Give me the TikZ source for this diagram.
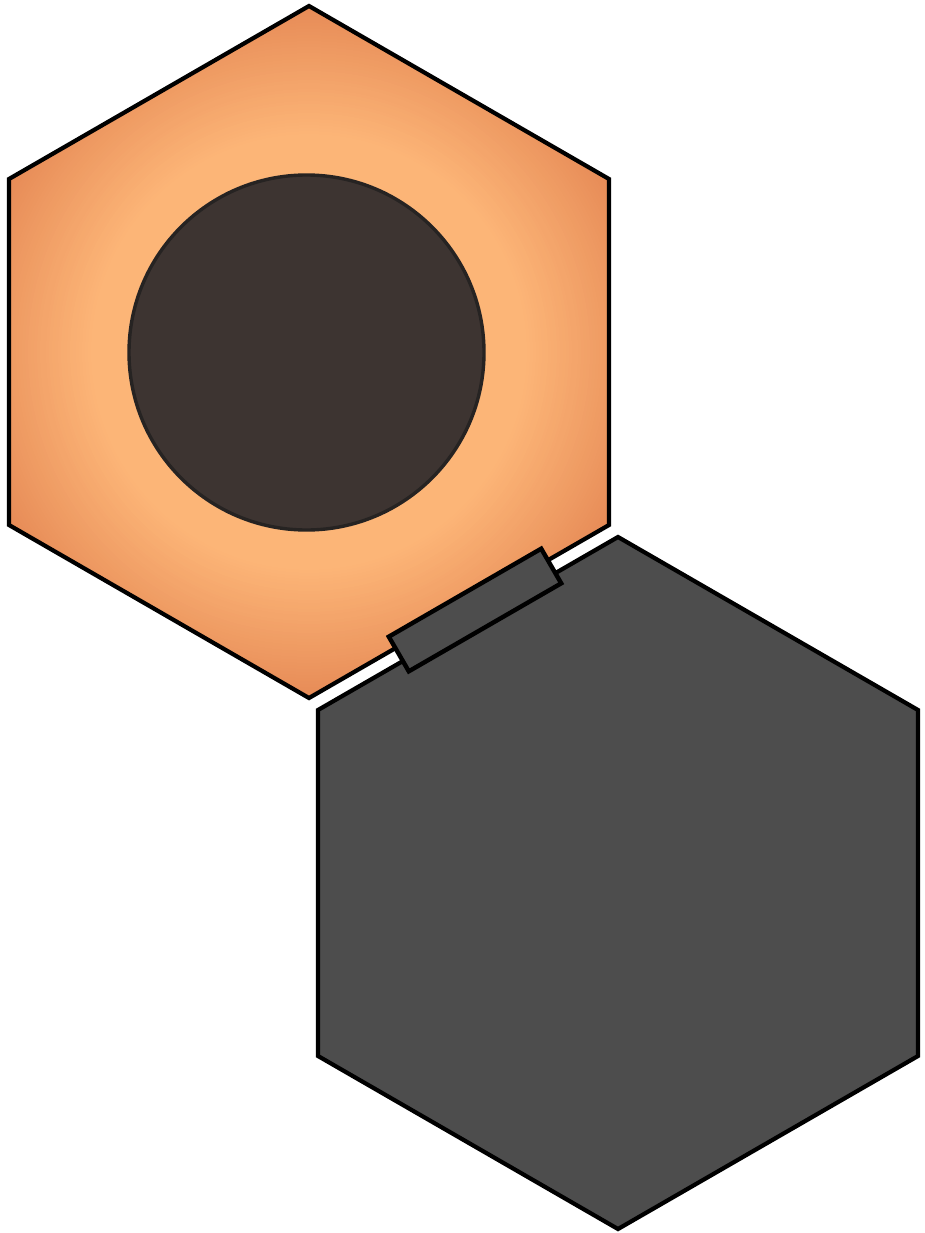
\documentclass[tikz,border=0pt]{standalone}
\usetikzlibrary{calc}
\definecolor{orlight}{HTML}{FCB577}
\definecolor{ordark}{HTML}{E68A56}
\definecolor{hexgray}{HTML}{4D4D4D}
\definecolor{circfill}{HTML}{3D3431}
\definecolor{circline}{HTML}{262322}
\tikzset{
  hexline/.style={draw=black, line width=4.2pt, line join=miter},
  conn/.style={draw=black, line width=4.4pt, fill=hexgray, line join=miter},
}
\begin{document}
\begin{tikzpicture}[x=1pt,y=-1pt]
\useasboundingbox (0,0) rectangle (924,1233);
% orange hexagon with radial gradient
\coordinate (h1) at (309,352);
\begin{scope}
\clip ($(h1)+(0,-346)$) -- ($(h1)+(-300,-173)$) -- ($(h1)+(-300,173)$) -- ($(h1)+(0,346)$) -- ($(h1)+(300,173)$) -- ($(h1)+(300,-173)$) -- cycle;
\fill[ordark] ($(h1)+(-320,-360)$) rectangle ($(h1)+(320,360)$);
\foreach \r in {350,347,...,200} {
  \pgfmathtruncatemacro\t{max(0,min(100,(\r-218)/132*100))}
  \fill[ordark!\t!orlight] (h1) circle[radius=\r pt];
}
\end{scope}
\path[hexline] ($(h1)+(0,-346)$) -- ($(h1)+(-300,-173)$) -- ($(h1)+(-300,173)$) -- ($(h1)+(0,346)$) -- ($(h1)+(300,173)$) -- ($(h1)+(300,-173)$) -- cycle;
% inner circle
\node[circle, minimum size=355pt, inner sep=0pt, fill=circfill, draw=circline, line width=3.4pt] (disc) at (306.5,352.5) {};
% gray hexagon
\coordinate (h2) at (618,883);
\path[hexline, fill=hexgray] ($(h2)+(0,-346)$) -- ($(h2)+(-300,-173)$) -- ($(h2)+(-300,173)$) -- ($(h2)+(0,346)$) -- ($(h2)+(300,173)$) -- ($(h2)+(300,-173)$) -- cycle;
% connector bar
\node[conn, rectangle, minimum width=176pt, minimum height=40pt, inner sep=0pt, rotate=30] (bar) at (475,610) {};
\end{tikzpicture}
\end{document}
